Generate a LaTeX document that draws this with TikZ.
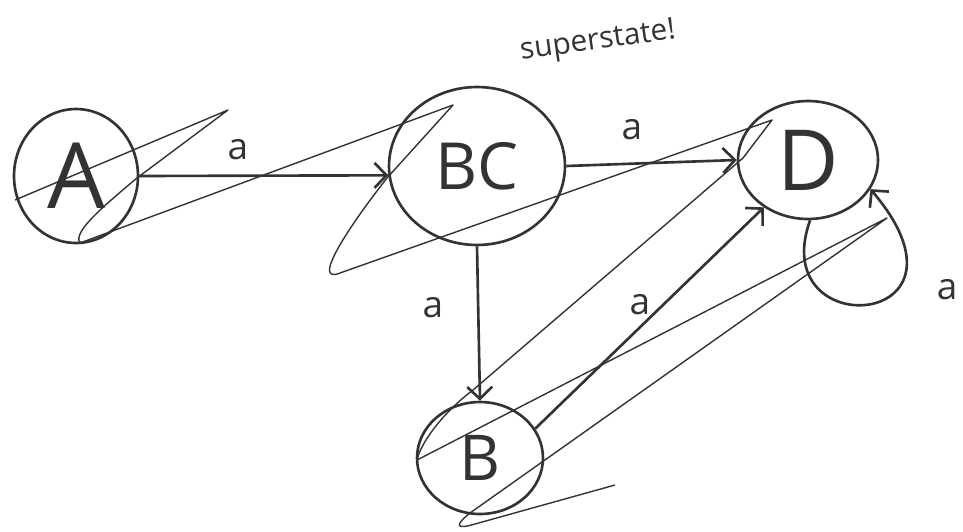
\documentclass[tikz,border=0pt]{standalone}
\usepackage{fontspec}
\setmainfont{Open Sans}
\usepackage{tikz}
\usetikzlibrary{arrows.meta,shapes.geometric}
\definecolor{penGray}{HTML}{333333}
\tikzset{
  state/.style={ellipse,draw=penGray,line width=1.5pt,inner sep=0pt,text=penGray},
  arrow/.style={-{Straight Barb[length=2.4mm,width=5mm]},line width=1.5pt,draw=penGray},
  scribble/.style={draw=penGray,line width=0.8pt,line join=round},
  edgelabel/.style={font=\fontsize{21}{21}\selectfont,text=penGray}
}

\begin{document}
\begin{tikzpicture}[x=0.02cm,y=-0.02cm]
  \useasboundingbox (0,0) rectangle (963,531);

  \node[state, minimum width=2.48cm, minimum height=2.68cm,
    font=\fontsize{52}{52}\selectfont] (A) at (76,176) {A};
  \node[state, minimum width=3.52cm, minimum height=3.16cm,
    font=\fontsize{37}{37}\selectfont] (BC) at (477,166) {BC};
  \node[state, minimum width=2.8cm, minimum height=2.36cm,
    font=\fontsize{48}{48}\selectfont] (D) at (808,160) {D};
  \node[state, minimum width=2.52cm, minimum height=2.24cm,
    font=\fontsize{36}{36}\selectfont] (B) at (480,458) {B};

  \draw[arrow] (A.east) -- (BC.186);
  \draw[arrow] (BC.east) -- (D.west);
  \draw[arrow] (BC.south) -- (B.north);
  \draw[arrow] (B.28) -- (D.-133);
  \draw[arrow] (D.-88) .. controls (765,345) and (990,330) .. (D.-25);

  \node[edgelabel] (lab1) at (238,150) {a};
  \node[edgelabel] (lab2) at (632,130) {a};
  \node[edgelabel] (lab3) at (433,308) {a};
  \node[edgelabel] (lab4) at (640,305) {a};
  \node[edgelabel] (lab5) at (947,290) {a};

  \node[font=\fontsize{17}{17}\selectfont, text=penGray, rotate=8] (note) at (598,42) {superstate!};

  % crossing-out strokes
  \draw[scribble] (15,200) -- (228,110) -- (137,178)
    .. controls (105,205) and (72,232) .. (80,243) -- (453,105) -- (387,178)
    .. controls (350,225) and (310,285) .. (340,273) -- (772,120) -- (743,158)
    -- (473,390) .. controls (440,415) and (420,445) .. (417,460) -- (887,218)
    -- (470,513) .. controls (455,525) and (455,530) .. (475,524) -- (615,485);
\end{tikzpicture}
\end{document}
